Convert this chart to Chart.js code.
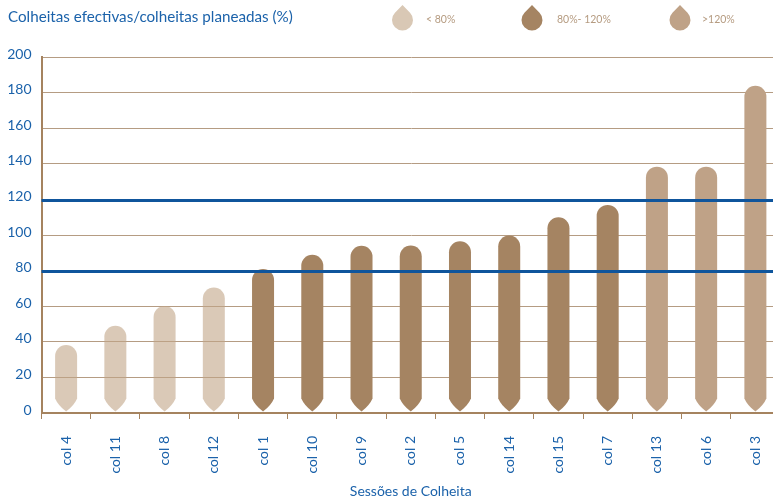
<!DOCTYPE html>
<html lang="pt">
<head>
    <meta charset="UTF-8">
    <title>Colheitas efectivas/colheitas planeadas</title>
    <script src="https://cdn.jsdelivr.net/npm/chart.js"></script>
    <style>
        html, body { margin: 0; padding: 0; background: #fff; overflow: hidden; }
        #wrap { width: 773px; height: 502px; overflow: hidden; }
    </style>
</head>
<body>
    <div id="wrap"><canvas id="myChart" width="780" height="502"></canvas></div>

    <script>
        const sessions = ['col 4', 'col 11', 'col 8', 'col 12', 'col 1', 'col 10', 'col 9', 'col 2', 'col 5', 'col 14', 'col 15', 'col 7', 'col 13', 'col 6', 'col 3'];
        const ratios = [38.2, 49, 60.2, 70.5, 81, 89, 94, 94.2, 96.5, 99.8, 110, 117, 138.5, 138.5, 184];
        const limits = [80, 120];
        const bandLabels = ['< 80%', '80%- 120%', '>120%'];
        const yTicks = [0, 20, 40, 60, 80, 100, 120, 140, 160, 180, 200];

        const BLUE = '#1b62aa';
        const LINE_BLUE = '#0f559c';
        const BROWN = '#a5835f';
        const GRID = '#b59c83';
        const LEGEND_TEXT = '#b59b80';
        const BAND_COLORS = ['rgba(194,165,135,0.6)', '#a58462', '#bfa287'];
        const FONT = 'Lato, sans-serif';

        function bandOf(value) {
            if (value < limits[0]) return 0;
            return value <= limits[1] ? 1 : 2;
        }

        // rounded top, pointed foot
        function dropBar(ctx, x, top, base, width) {
            const r = width / 2;
            const tip = base - 1;
            ctx.beginPath();
            ctx.moveTo(x - r, top + r);
            ctx.arc(x, top + r, r, Math.PI, 0);
            ctx.lineTo(x + r, tip - 13);
            ctx.quadraticCurveTo(x + r - 3, tip - 6, x, tip);
            ctx.quadraticCurveTo(x - r + 3, tip - 6, x - r, tip - 13);
            ctx.closePath();
            ctx.fill();
        }

        const dropBars = {
            id: 'dropBars',
            beforeDatasetDraw(chart, args) {
                const ctx = chart.ctx;
                ctx.save();
                args.meta.data.forEach(bar => {
                    ctx.fillStyle = bar.options.backgroundColor;
                    dropBar(ctx, bar.x, bar.y, bar.base, bar.width);
                });
                ctx.restore();
                return false;
            }
        };

        // horizontal lines at the two band limits, over the bars
        const limitLines = {
            id: 'limitLines',
            afterDatasetsDraw(chart) {
                const ctx = chart.ctx;
                const area = chart.chartArea;
                ctx.save();
                ctx.strokeStyle = LINE_BLUE;
                ctx.lineWidth = 3;
                limits.forEach(v => {
                    const y = Math.round(chart.scales.y.getPixelForValue(v)) + 0.5;
                    ctx.beginPath();
                    ctx.moveTo(area.left, y);
                    ctx.lineTo(area.right, y);
                    ctx.stroke();
                });
                ctx.restore();
            }
        };

        // legend row at the top: droplet and text for each band
        const dropLegend = {
            id: 'dropLegend',
            afterDraw(chart) {
                const ctx = chart.ctx;
                const dropX = [402.5, 532, 680];
                const textX = [426, 557, 702];
                const spread = 0.8;
                ctx.save();
                ctx.font = '10.5px ' + FONT;
                ctx.textBaseline = 'middle';
                bandLabels.forEach((label, i) => {
                    const x = dropX[i];
                    ctx.fillStyle = i === 0 ? '#d9c8b5' : BAND_COLORS[i];
                    ctx.beginPath();
                    ctx.moveTo(x, 5);
                    ctx.arc(x, 20, 10.5, -Math.PI / 2 + spread, -Math.PI / 2 - spread);
                    ctx.closePath();
                    ctx.fill();
                    ctx.fillStyle = LEGEND_TEXT;
                    ctx.fillText(label, textX[i], 19.5);
                });
                ctx.restore();
            }
        };

        new Chart(document.getElementById('myChart'), {
            type: 'bar',
            data: {
                labels: sessions,
                datasets: [{
                    data: ratios,
                    backgroundColor: c => BAND_COLORS[bandOf(c.raw)],
                    barThickness: 22
                }]
            },
            options: {
                responsive: false,
                animation: false,
                layout: { padding: { left: 8, right: 0, top: 0, bottom: 0 } },
                plugins: {
                    legend: { display: false },
                    tooltip: { enabled: false },
                    title: {
                        display: true,
                        text: 'Colheitas efectivas/colheitas planeadas (%)',
                        align: 'start',
                        color: BLUE,
                        font: { family: FONT, size: 15.2, weight: 'normal' },
                        padding: { top: 8, bottom: 31 }
                    }
                },
                scales: {
                    x: {
                        afterFit(scale) {
                            scale.height = 89;
                            scale.paddingLeft = 0;
                            scale.paddingRight = 0;
                        },
                        border: { color: BROWN, width: 2 },
                        grid: { drawOnChartArea: false, tickColor: BROWN, tickLength: 6, tickWidth: 1 },
                        ticks: {
                            color: BLUE,
                            font: { family: FONT, size: 14 },
                            minRotation: 90,
                            maxRotation: 90,
                            padding: 17,
                            autoSkip: false
                        },
                        title: {
                            display: true,
                            text: 'Sessões de Colheita',
                            color: BLUE,
                            font: { family: FONT, size: 14 },
                            padding: { top: 0, bottom: 2 }
                        }
                    },
                    y: {
                        min: 0,
                        max: 200,
                        afterFit(scale) { scale.width = 33.5; },
                        afterBuildTicks(scale) { scale.ticks = yTicks.map(v => ({ value: v })); },
                        border: { color: BROWN, width: 2 },
                        grid: {
                            color: c => limits.includes(c.tick.value) ? 'transparent' : GRID,
                            lineWidth: 1,
                            drawTicks: false
                        },
                        ticks: {
                            color: BLUE,
                            font: { family: FONT, size: 14 },
                            padding: 10,
                            labelOffset: -3
                        }
                    }
                }
            },
            plugins: [dropBars, limitLines, dropLegend]
        });
    </script>
</body>
</html>
